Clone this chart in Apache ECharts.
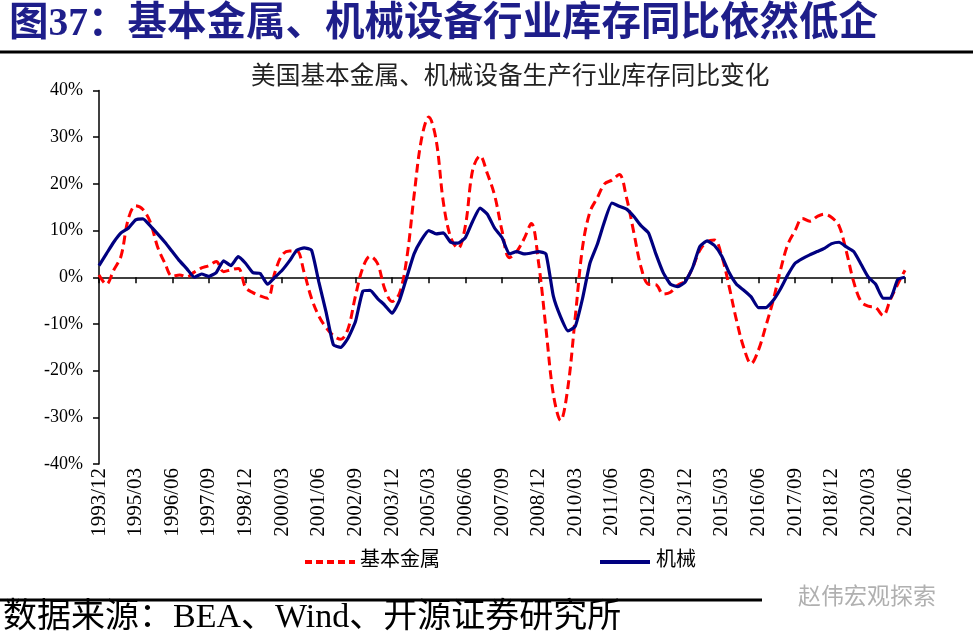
<!DOCTYPE html>
<html><head><meta charset="utf-8">
<script src="https://cdn.jsdelivr.net/npm/echarts@6/dist/echarts.min.js"></script>
<style>html,body{margin:0;padding:0;background:#fff}#c{width:973px;height:639px}</style>
</head><body><div id="c"></div>
<script>
// Quarterly readings, 1993/12 .. 2021/06 (%)
const metals = [
  0.5, -1.5, 1.5, 4.5, 12.5, 15.3, 14.5, 11.8, 6.5, 3.0,
  0.2, 0.5, 0.1, 1.1, 2.0, 2.5, 3.4, 1.2, 1.6, 1.9,
  -2.2, -3.3, -4.0, -4.5, 1.0, 4.8, 5.6, 5.6, 1.0, -4.5,
  -8.3, -10.8, -12.5, -13.3, -11.0, -4.0, 2.0, 4.5, 3.0, -2.5,
  -5.2, -3.5, 4.0, 17.5, 29.5, 34.3, 29.5, 16.0, 8.5, 6.2,
  11.0, 23.0, 26.0, 22.2, 17.5, 10.0, 4.2, 5.5, 8.2, 11.5,
  3.0, -11.0, -25.0, -30.7, -23.5, -8.5, 6.5, 14.0, 17.0, 20.0,
  20.8, 22.0, 17.0, 9.5, 2.0, -1.5, -1.6, -3.6, -3.2, -1.7,
  -0.8, 2.0, 5.8, 7.6, 8.0, 4.5, -2.0, -9.2, -15.1, -18.5,
  -15.6, -10.5, -5.0, 1.5, 7.0, 10.0, 12.6, 12.0, 13.0, 13.5,
  12.8, 11.0, 5.5, -1.0, -5.2, -6.2, -6.5, -8.2, -4.8, -1.5,
  1.5
];
const machinery = [
  2.5, 5.0, 7.5, 9.5, 10.5, 12.3, 12.5, 11.0, 9.3, 7.5,
  5.5, 3.5, 1.8, 0.0, 0.7, 0.2, 1.0, 3.5, 2.5, 4.4,
  3.0, 1.0, 0.8, -1.5, 0.0, 1.5, 3.5, 5.8, 6.3, 5.8,
  -1.0, -7.5, -14.5, -15.0, -13.0, -9.5, -3.0, -2.8, -4.5, -6.0,
  -7.7, -5.0, 0.0, 5.0, 8.0, 10.0, 9.3, 9.5, 7.5, 7.3,
  8.5, 12.0, 14.8, 13.5, 10.5, 8.5, 5.0, 5.5, 5.0, 5.2,
  5.5, 5.0, -4.0, -8.5, -11.5, -10.5, -4.5, 3.0, 7.0, 12.0,
  15.9, 15.2, 14.6, 13.0, 11.0, 9.5, 5.0, 1.0, -1.5, -2.0,
  -1.0, 2.0, 6.6, 7.8, 6.8, 4.5, 1.0, -1.5, -2.8, -4.2,
  -6.5, -6.5, -5.0, -2.5, 0.5, 3.0, 4.0, 4.8, 5.5, 6.2,
  7.2, 7.5, 6.5, 5.5, 2.8, 0.0, -1.5, -4.5, -4.5, -0.5,
  0.0
];
const seriesNames = ['基本金属', '机械'];
const yTicks = [-40, -30, -20, -10, 0, 10, 20, 30, 40];
// quarterly category labels starting 1993/12
const categories = [];
(function () {
  let y = 1993, m = 12;
  for (let i = 0; i < metals.length; i++) {
    categories.push(y + '/' + (m < 10 ? '0' + m : m));
    m += 3; if (m > 12) { m -= 12; y += 1; }
  }
})();

const RED = '#ff0000', NAVY = '#000080';
const serif = '"Liberation Serif","Times New Roman","Noto Sans CJK SC"';
const chart = echarts.init(document.getElementById('c'), null, {renderer: 'canvas'});
chart.setOption({
  animation: false,
  backgroundColor: '#fff',
  title: [
    {text: '图37：基本金属、机械设备行业库存同比依然低企', left: 4, top: 0,
     textStyle: {fontFamily: serif, fontSize: 39.5, fontWeight: 'bold', color: '#1e1e8a'}},
    {text: '美国基本金属、机械设备生产行业库存同比变化', left: 246, top: 60,
     textStyle: {fontFamily: serif, fontSize: 24.7, fontWeight: 'normal', color: '#222'}}
  ],
  graphic: [
    {type: 'line', shape: {x1: 0, y1: 52, x2: 973, y2: 52}, style: {stroke: '#000', lineWidth: 3}},
    {type: 'line', shape: {x1: 0, y1: 600, x2: 762, y2: 600}, style: {stroke: '#000', lineWidth: 3}},
    {type: 'text', left: 3, top: 601, style: {text: '数据来源：BEA、Wind、开源证券研究所', font: '34px ' + serif, fill: '#000'}},
    {type: 'text', left: 798, top: 584, style: {text: '赵伟宏观探索', font: '23px "Noto Sans CJK SC"', fill: '#b0b0b0'}},
    // legend
    {type: 'line', shape: {x1: 305, y1: 562, x2: 355, y2: 562}, style: {stroke: RED, lineWidth: 4, lineDash: [7, 4]}},
    {type: 'text', left: 360, top: 551, style: {text: seriesNames[0], font: '20px ' + serif, fill: '#000'}},
    {type: 'line', shape: {x1: 600, y1: 562, x2: 650, y2: 562}, style: {stroke: NAVY, lineWidth: 4}},
    {type: 'text', left: 656, top: 551, style: {text: seriesNames[1], font: '20px ' + serif, fill: '#000'}}
  ],
  grid: {left: 99, right: 68, top: 90.5, bottom: 175, containLabel: false, outerBoundsMode: 'none'},
  xAxis: [
    {
      type: 'category', data: categories, boundaryGap: false, position: 'bottom',
      axisLine: {onZero: true, lineStyle: {color: '#000', width: 1.5}},
      axisTick: {show: true, interval: 4, length: 6, lineStyle: {color: '#000', width: 1.5}},
      axisLabel: {show: false},
      splitLine: {show: false}
    },
    {
      type: 'category', data: categories, boundaryGap: false, position: 'bottom',
      axisLine: {show: false, onZero: false},
      axisTick: {show: false},
      axisLabel: {show: true, interval: 4, rotate: 90, margin: 4, fontFamily: serif, fontSize: 21, color: '#000'},
      splitLine: {show: false}
    }
  ],
  yAxis: {
    type: 'value', min: yTicks[0], max: yTicks[yTicks.length - 1], interval: 10,
    axisLine: {show: true, lineStyle: {color: '#000', width: 1.5}},
    axisTick: {show: true, length: 6, lineStyle: {color: '#000', width: 1.5}},
    axisLabel: {formatter: '{value}%', margin: 16, fontFamily: serif, fontSize: 18, color: '#000'},
    splitLine: {show: false}
  },
  series: [
    {name: seriesNames[0], type: 'line', data: metals, symbol: 'none', smooth: 0.35, z: 2,
     lineStyle: {color: RED, width: 3, type: [9, 5]}, itemStyle: {color: RED}},
    {name: seriesNames[1], type: 'line', data: machinery, symbol: 'none', smooth: 0.15, z: 3,
     lineStyle: {color: NAVY, width: 3.2}, itemStyle: {color: NAVY}}
  ]
});
</script>
</body></html>
